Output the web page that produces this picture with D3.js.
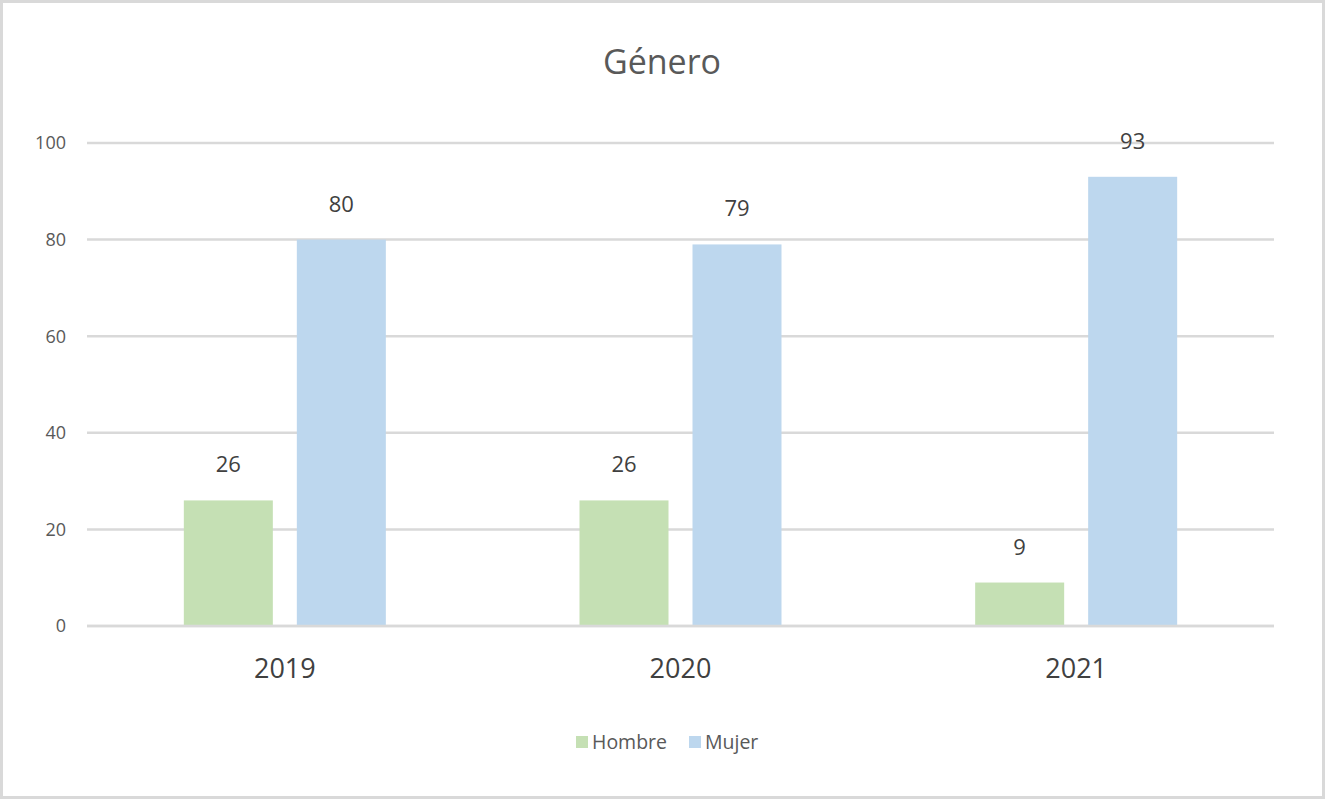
<!DOCTYPE html>
<html><head><meta charset="utf-8">
<script src="https://cdn.jsdelivr.net/npm/d3@7"></script>
<style>body{margin:0;background:#fff;}svg{display:block;}</style>
</head><body>
<svg id="c" width="1326" height="800"></svg>
<script>
const categories = ["2019", "2020", "2021"];
const seriesNames = ["Hombre", "Mujer"];
const hombre = [26, 26, 9];
const mujer = [80, 79, 93];
const yTicks = [0, 20, 40, 60, 80, 100];
const colors = ["#c5e0b4", "#bdd7ee"];

(function () {
const svg = d3.select("#c");
const font = "'Open Sans', 'Segoe UI', sans-serif";
svg.append("rect").attr("x", 1.5).attr("y", 1.5).attr("width", 1322).attr("height", 796)
  .attr("fill", "#fff").attr("stroke", "#d9d9d9").attr("stroke-width", 3);

const pl = 87, pr = 1274, pt = 143, pb = 626;
const x = d3.scaleBand().domain(categories).range([pl, pr]);
const y = d3.scaleLinear().domain([0, 100]).range([pb, pt]);
const barW = 89, gap = 24;
const xs = d3.scaleOrdinal().domain(seriesNames).range([-(gap / 2 + barW), gap / 2]);

svg.append("g").selectAll("line").data(yTicks).join("line")
  .attr("x1", pl).attr("x2", pr).attr("y1", d => y(d)).attr("y2", d => y(d))
  .attr("stroke", "#d9d9d9").attr("stroke-width", 2.5);

svg.append("g").selectAll("text").data(yTicks).join("text")
  .attr("x", 66).attr("y", d => y(d)).attr("dy", "0.35em").attr("text-anchor", "end")
  .attr("font-family", font).attr("font-size", 18).attr("fill", "#595959").text(d => d);

const series = [hombre, mujer];
series.forEach((vals, si) => {
  const g = svg.append("g");
  g.selectAll("rect").data(categories).join("rect")
    .attr("x", (c) => x(c) + x.bandwidth() / 2 + xs(seriesNames[si]))
    .attr("width", barW)
    .attr("y", (c, i) => y(vals[i]))
    .attr("height", (c, i) => y(0) - y(vals[i]))
    .attr("fill", colors[si]);
  g.selectAll("text").data(categories).join("text")
    .attr("x", (c) => x(c) + x.bandwidth() / 2 + xs(seriesNames[si]) + barW / 2)
    .attr("y", (c, i) => y(vals[i]) - 28)
    .attr("text-anchor", "middle")
    .attr("font-family", font).attr("font-size", 22).attr("fill", "#404040")
    .text((c, i) => vals[i]);
});

svg.append("line").attr("x1", pl).attr("x2", pr).attr("y1", y(0)).attr("y2", y(0))
  .attr("stroke", "#d9d9d9").attr("stroke-width", 2.5);

svg.append("g").selectAll("text").data(categories).join("text")
  .attr("x", c => x(c) + x.bandwidth() / 2).attr("y", 678).attr("text-anchor", "middle")
  .attr("font-family", font).attr("font-size", 27).attr("fill", "#404040").text(c => c);

svg.append("text").attr("x", 662).attr("y", 74).attr("text-anchor", "middle")
  .attr("font-family", font).attr("font-size", 34).attr("fill", "#595959").text("Género");

const legendX = [576, 689];
seriesNames.forEach((n, i) => {
  svg.append("rect").attr("x", legendX[i]).attr("y", 736).attr("width", 12).attr("height", 12).attr("fill", colors[i]);
  svg.append("text").attr("x", legendX[i] + 16).attr("y", 749)
    .attr("font-family", font).attr("font-size", 19.5).attr("fill", "#595959").text(n);
});
})();
</script>
</body></html>
